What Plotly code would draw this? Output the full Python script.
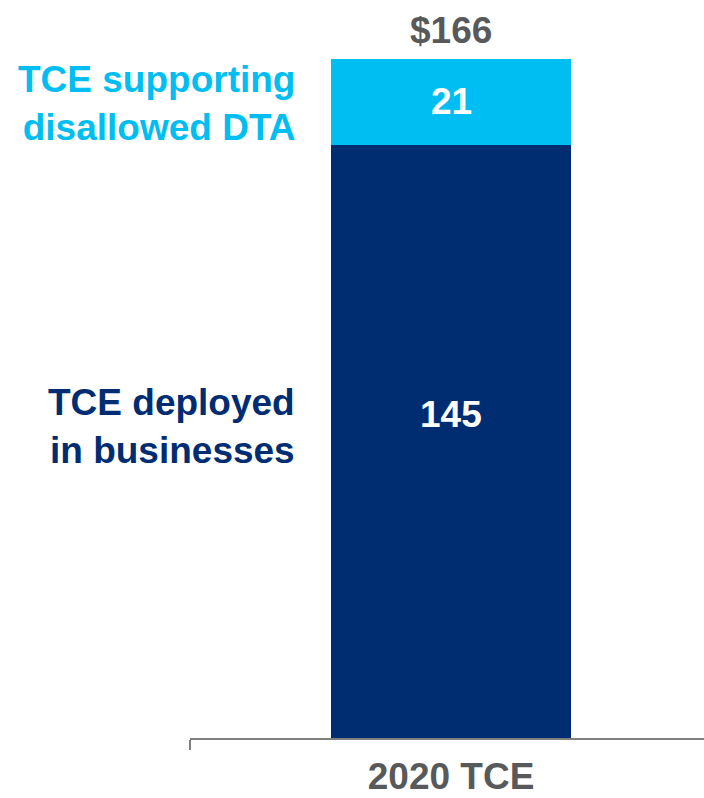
import plotly.graph_objects as go

# Tangible common equity composition, $ billions
category = ["2020 TCE"]
deployed = [145]
disallowed_dta = [21]
total = [166]

segment_names = ["TCE deployed<br>in businesses", "TCE supporting<br>disallowed DTA"]
navy = "#002D72"
sky = "#00BEF2"
gray = "#58595B"
font_family = "Liberation Sans, Arial, sans-serif"

fig = go.Figure()
fig.add_trace(go.Bar(x=category, y=deployed, marker_color=navy, width=0.46,
                     marker_line_width=0, hoverinfo="skip"))
fig.add_trace(go.Bar(x=category, y=disallowed_dta, marker_color=sky, width=0.46,
                     marker_line_width=0, hoverinfo="skip"))

big = dict(family=font_family, size=37)

# value labels on the segments
fig.add_annotation(x=category[0], y=deployed[0] * 0.545, text=f"<b>{deployed[0]}</b>",
                   showarrow=False, font=dict(big, color="white"))
fig.add_annotation(x=category[0], y=deployed[0] + disallowed_dta[0] / 2,
                   text=f"<b>{disallowed_dta[0]}</b>", showarrow=False,
                   font=dict(big, color="white"))
# total above the stack
fig.add_annotation(x=category[0], y=total[0], text=f"<b>${total[0]}</b>",
                   showarrow=False, yanchor="bottom", yshift=6,
                   font=dict(big, color=gray))

# segment names to the left of the bar
fig.add_annotation(xref="paper", x=0.208, xanchor="right", y=deployed[0] * 0.525,
                   text=f"<b>{segment_names[0]}</b>", showarrow=False, align="right",
                   font=dict(big, color=navy))
fig.add_annotation(xref="paper", x=0.208, xanchor="right",
                   y=deployed[0] + disallowed_dta[0] / 2, yshift=-2,
                   text=f"<b>{segment_names[1]}</b>", showarrow=False, align="right",
                   font=dict(big, color=sky))

fig.update_layout(
    barmode="stack",
    width=704, height=798,
    margin=dict(l=190, r=0, t=0, b=60),
    paper_bgcolor="white", plot_bgcolor="white",
    showlegend=False,
    xaxis=dict(type="category", range=[-0.5, 0.4846], showline=True, automargin=False,
               linecolor="#7F7F7F", linewidth=1.5, ticks="outside",
               tickson="boundaries", ticklen=10, tickwidth=1.5, tickcolor="#7F7F7F",
               showgrid=False, tickfont=dict(family=font_family, size=37, color=gray),
               ticklabelstandoff=5,
               tickprefix="<b>", ticksuffix="</b>"),
    yaxis=dict(range=[0, 180.4], visible=False, showgrid=False, automargin=False),
)

fig.write_html("out.html")
